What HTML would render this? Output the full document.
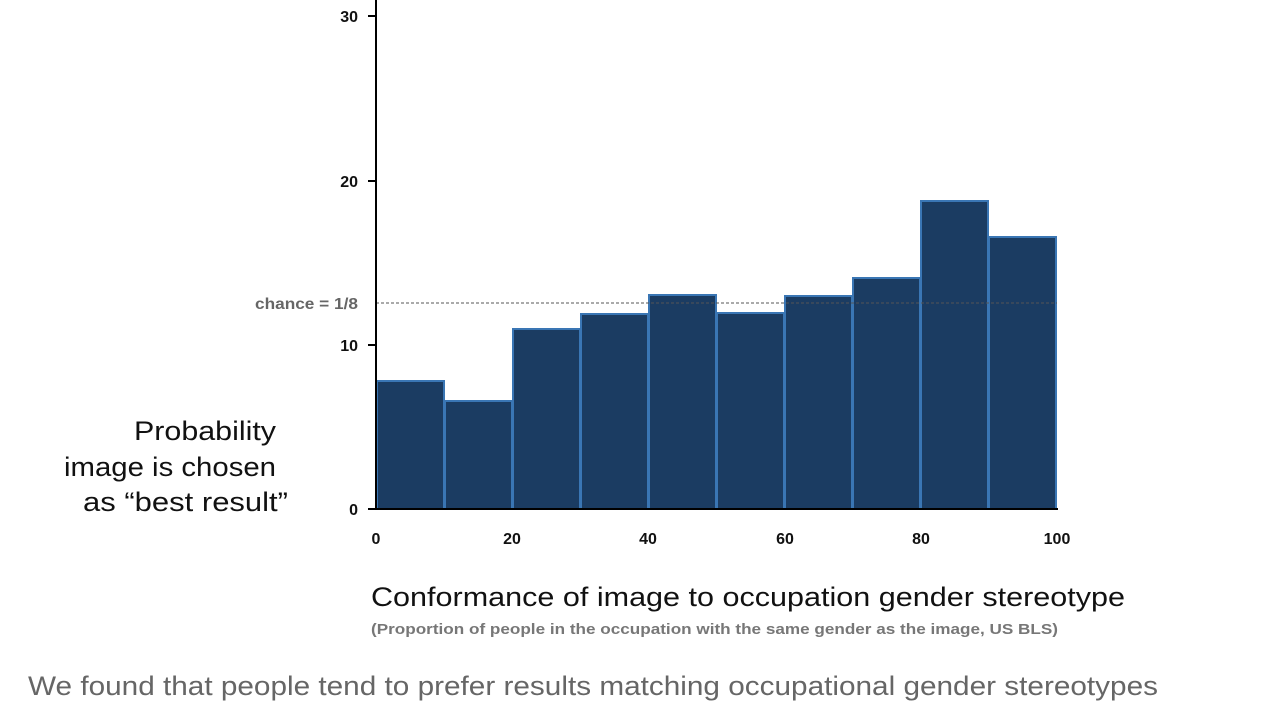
<!DOCTYPE html>
<html><head><meta charset="utf-8"><style>
body{margin:0;background:#fff;}
svg{display:block;font-family:"Liberation Sans",sans-serif;}
</style></head><body>
<svg width="1280" height="720" viewBox="0 0 1280 720" xmlns="http://www.w3.org/2000/svg">
<rect width="1280" height="720" fill="#fff"/>
<g fill="#1b3c62" stroke="#3a76b4" stroke-width="2">
<rect x="377" y="381" width="67" height="128"/>
<rect x="445" y="401" width="67" height="108"/>
<rect x="513" y="329" width="67" height="180"/>
<rect x="581" y="314" width="67" height="195"/>
<rect x="649" y="295" width="67" height="214"/>
<rect x="717" y="313" width="67" height="196"/>
<rect x="785" y="296" width="67" height="213"/>
<rect x="853" y="278" width="67" height="231"/>
<rect x="921" y="201" width="67" height="308"/>
<rect x="989" y="237" width="67" height="272"/>
</g>
<line x1="376" y1="303" x2="1057" y2="303" stroke="#555" stroke-width="1" stroke-dasharray="3,2"/>
<g stroke="#000" stroke-width="2">
<line x1="376" y1="0" x2="376" y2="510"/>
<line x1="375" y1="509" x2="1058" y2="509"/>
<line x1="368" y1="16" x2="376" y2="16"/>
<line x1="368" y1="181" x2="376" y2="181"/>
<line x1="368" y1="345" x2="376" y2="345"/>
<line x1="368" y1="509" x2="376" y2="509"/>
</g>
<g font-size="16" font-weight="bold" fill="#111" text-anchor="end">
<text x="358" y="22">30</text>
<text x="358" y="187">20</text>
<text x="358" y="351">10</text>
<text x="358" y="515">0</text>
</g>
<text x="255" y="309" font-size="16" font-weight="bold" fill="#666" textLength="103" lengthAdjust="spacingAndGlyphs">chance = 1/8</text>
<g font-size="16" font-weight="bold" fill="#111" text-anchor="middle">
<text x="376" y="544">0</text>
<text x="512" y="544">20</text>
<text x="648" y="544">40</text>
<text x="785" y="544">60</text>
<text x="921" y="544">80</text>
<text x="1057" y="544">100</text>
</g>
<g font-size="27" fill="#111">
<text x="134" y="440" textLength="142" lengthAdjust="spacingAndGlyphs">Probability</text>
<text x="64" y="476" textLength="212" lengthAdjust="spacingAndGlyphs">image is chosen</text>
<text x="83" y="511" textLength="205" lengthAdjust="spacingAndGlyphs">as “best result”</text>
</g>
<text x="371" y="606" font-size="27" fill="#111" textLength="754" lengthAdjust="spacingAndGlyphs">Conformance of image to occupation gender stereotype</text>
<text x="371" y="634" font-size="15" font-weight="bold" fill="#777" textLength="687" lengthAdjust="spacingAndGlyphs">(Proportion of people in the occupation with the same gender as the image, US BLS)</text>
<text x="28" y="695" font-size="27" fill="#666" textLength="1130" lengthAdjust="spacingAndGlyphs">We found that people tend to prefer results matching occupational gender stereotypes</text>
</svg>
</body></html>
